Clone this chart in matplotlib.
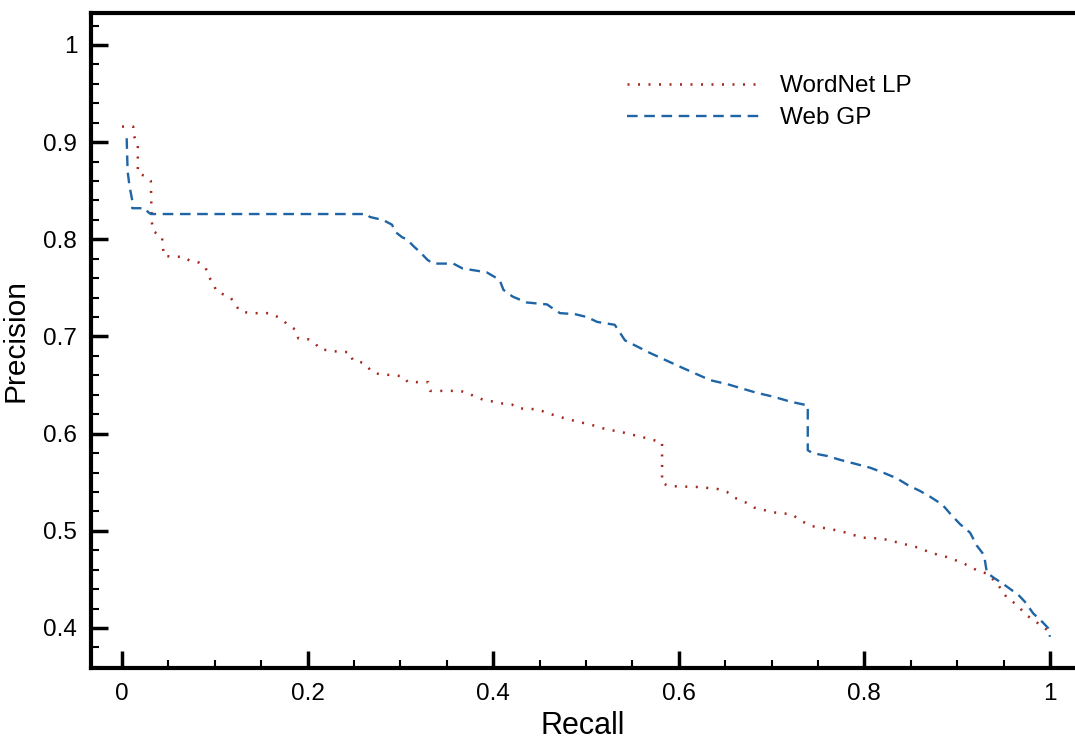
import matplotlib.pyplot as plt
from matplotlib.ticker import MultipleLocator

plt.rcParams['font.family'] = ['Liberation Sans', 'DejaVu Sans']

# WordNet LP (red dotted)
wn_recall = [0.0, 0.012, 0.013, 0.017, 0.017, 0.025, 0.031, 0.032, 0.034, 0.043,
             0.044, 0.045, 0.055, 0.066, 0.073, 0.083, 0.090, 0.093, 0.098, 0.102,
             0.110, 0.117, 0.127, 0.138, 0.159, 0.168, 0.174, 0.180, 0.187, 0.190,
             0.201, 0.209, 0.213, 0.235, 0.245, 0.249, 0.260, 0.265, 0.272, 0.292,
             0.303, 0.308, 0.330, 0.332, 0.364, 0.373, 0.380, 0.389, 0.400, 0.410,
             0.420, 0.428, 0.448, 0.459, 0.469, 0.480, 0.510, 0.520, 0.541, 0.5625,
             0.582, 0.582, 0.590, 0.623, 0.642, 0.652, 0.658, 0.675, 0.681, 0.702,
             0.722, 0.729, 0.742, 0.763, 0.781, 0.797, 0.819, 0.836, 0.857, 0.873,
             0.889, 0.906, 0.922, 0.932, 0.943, 0.953, 0.964, 0.975, 0.987, 0.997, 1.0]
wn_precision = [0.916, 0.916, 0.906, 0.898, 0.868, 0.865, 0.860, 0.818, 0.808, 0.803,
                0.793, 0.783, 0.782, 0.782, 0.778, 0.776, 0.771, 0.762, 0.755, 0.746,
                0.743, 0.740, 0.726, 0.724, 0.724, 0.720, 0.716, 0.711, 0.707, 0.698,
                0.697, 0.692, 0.687, 0.684, 0.684, 0.675, 0.673, 0.668, 0.662, 0.660,
                0.659, 0.653, 0.653, 0.644, 0.644, 0.642, 0.638, 0.635, 0.633, 0.631,
                0.630, 0.626, 0.625, 0.621, 0.618, 0.615, 0.608, 0.605, 0.601, 0.596,
                0.591, 0.549, 0.546, 0.545, 0.543, 0.540, 0.535, 0.528, 0.524, 0.519,
                0.517, 0.512, 0.505, 0.502, 0.498, 0.493, 0.492, 0.488, 0.483, 0.477,
                0.473, 0.467, 0.459, 0.456, 0.446, 0.432, 0.424, 0.413, 0.405, 0.398, 0.393]

# Web GP (blue dashed)
web_recall = [0.005, 0.006, 0.008, 0.011, 0.011, 0.025, 0.028, 0.031, 0.264, 0.267,
              0.276, 0.281, 0.291, 0.294, 0.302, 0.307, 0.314, 0.321, 0.329, 0.335,
              0.357, 0.367, 0.393, 0.402, 0.407, 0.411, 0.421, 0.436, 0.458, 0.464,
              0.472, 0.488, 0.501, 0.512, 0.531, 0.542, 0.569, 0.601, 0.634, 0.652,
              0.684, 0.702, 0.720, 0.739, 0.739, 0.744, 0.760, 0.774, 0.790, 0.806,
              0.820, 0.835, 0.847, 0.860, 0.871, 0.884, 0.894, 0.903, 0.914, 0.921,
              0.929, 0.932, 0.939, 0.953, 0.966, 0.973, 0.982, 0.992, 0.998, 1.0]
web_precision = [0.904, 0.870, 0.855, 0.840, 0.832, 0.832, 0.828, 0.826, 0.826, 0.823,
                 0.821, 0.820, 0.815, 0.808, 0.802, 0.800, 0.793, 0.787, 0.779, 0.775,
                 0.775, 0.770, 0.766, 0.761, 0.758, 0.748, 0.741, 0.735, 0.733, 0.729,
                 0.724, 0.723, 0.720, 0.715, 0.712, 0.696, 0.683, 0.669, 0.655, 0.651,
                 0.642, 0.638, 0.633, 0.629, 0.583, 0.580, 0.577, 0.573, 0.569, 0.565,
                 0.560, 0.554, 0.547, 0.541, 0.535, 0.527, 0.516, 0.507, 0.498, 0.485,
                 0.475, 0.457, 0.452, 0.443, 0.434, 0.427, 0.415, 0.406, 0.400, 0.391]

fig = plt.figure(figsize=(10.75, 7.42), dpi=100)
ax = fig.add_axes([0.0847, 0.0997, 0.9153, 0.8828])

ax.plot(wn_recall, wn_precision, color='#a3281c', lw=1.8, dashes=(0.8, 3.4),
        label='WordNet LP')
ax.plot(web_recall, web_precision, color='#1f65a6', lw=1.7, dashes=(4.5, 2.8),
        label='Web GP')

ax.set_xlim(-0.0334, 1.027)
ax.set_ylim(0.3588, 1.0329)
ax.xaxis.set_major_locator(MultipleLocator(0.2))
ax.xaxis.set_minor_locator(MultipleLocator(0.05))
ax.yaxis.set_major_locator(MultipleLocator(0.1))
ax.yaxis.set_minor_locator(MultipleLocator(0.02))
ax.set_xticks([0, 0.2, 0.4, 0.6, 0.8, 1.0], ['0', '0.2', '0.4', '0.6', '0.8', '1'])
ax.set_yticks([0.4, 0.5, 0.6, 0.7, 0.8, 0.9, 1.0],
              ['0.4', '0.5', '0.6', '0.7', '0.8', '0.9', '1'])

ax.spines['right'].set_visible(False)
for s in ['left', 'bottom', 'top']:
    ax.spines[s].set_linewidth(3)
ax.tick_params(which='major', direction='in', length=12, width=2.5,
               labelsize=17.5, top=False, right=False)
ax.tick_params(which='minor', direction='in', length=6, width=1.5,
               top=False, right=False)
ax.tick_params(axis='y', which='major', pad=10)
ax.tick_params(axis='x', which='major', pad=11)

ax.set_xlabel('Recall', fontsize=22, labelpad=4)
ax.set_ylabel('Precision', fontsize=21.5, labelpad=10)

ax.legend(loc='upper left', bbox_to_anchor=(0.545, 0.905), frameon=False,
          fontsize=17.5, handlelength=5.6, handletextpad=0.7, labelspacing=0.42,
          borderpad=0, borderaxespad=0)

plt.savefig('out.png', dpi=100)
